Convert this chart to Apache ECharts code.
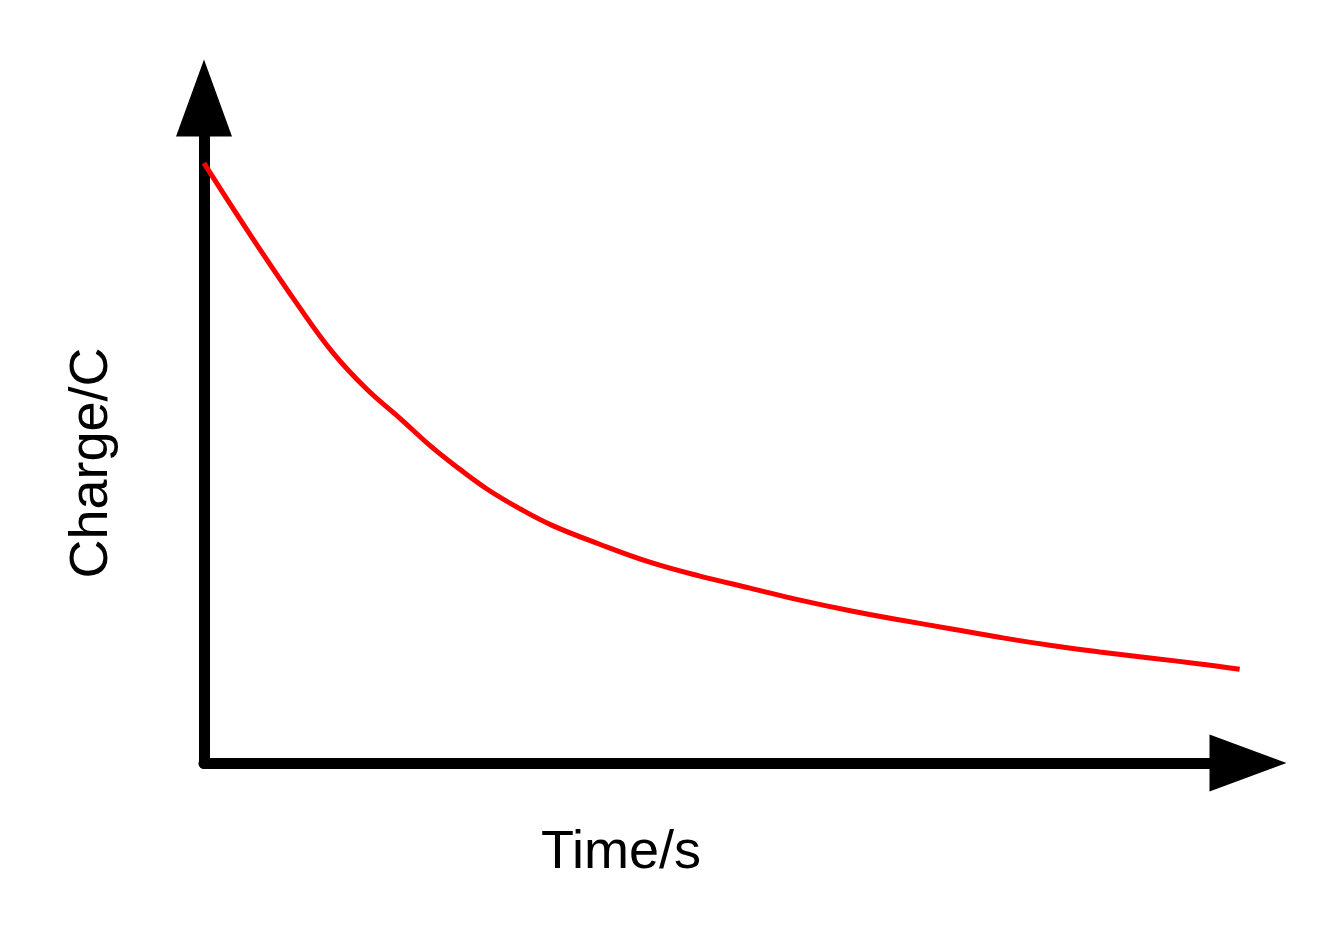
<!DOCTYPE html>
<html>
<head>
<meta charset="utf-8">
<script src="https://cdn.jsdelivr.net/npm/echarts@6/dist/echarts.min.js"></script>
<style>
html,body{margin:0;padding:0;background:#fff;}
#chart{width:1334px;height:938px;}
</style>
</head>
<body>
<div id="chart"></div>
<script>
// Time (s) and charge (C)
var time = [0, 0.44, 0.92, 1.24, 1.56, 1.88, 2.16, 2.39, 2.71, 3.03, 3.34, 3.79, 4.27, 4.75, 5.23, 5.71, 6.19, 6.67, 7.15, 7.62, 8.10, 8.58, 9.06, 9.54, 9.92];
var charge = [90.2, 79.5, 68.4, 61.6, 56.2, 51.8, 47.8, 44.9, 41.2, 38.2, 35.7, 32.9, 30.2, 28.1, 26.3, 24.5, 22.9, 21.5, 20.2, 18.9, 17.7, 16.7, 15.8, 14.9, 14.1];
var xTitle = 'Time/s';
var yTitle = 'Charge/C';

var points = time.map(function (t, i) { return [t, charge[i]]; });

var chart = echarts.init(document.getElementById('chart'), null, {renderer: 'canvas'});
chart.setOption({
  backgroundColor: '#ffffff',
  animation: false,
  grid: {left: 204, right: 86, top: 98, bottom: 175, containLabel: false},
  xAxis: {
    type: 'value', min: 0, max: 10,
    axisLine: {show: true, onZero: false, lineStyle: {color: '#000', width: 11},
      symbol: ['none', 'triangle'], symbolSize: [57, 77]},
    axisTick: {show: false}, axisLabel: {show: false}, splitLine: {show: false}
  },
  yAxis: {
    type: 'value', min: 0, max: 100,
    axisLine: {show: true, onZero: false, lineStyle: {color: '#000', width: 11},
      symbol: ['none', 'triangle'], symbolSize: [56, 77]},
    axisTick: {show: false}, axisLabel: {show: false}, splitLine: {show: false}
  },
  graphic: [
    {type: 'text', x: 621, y: 853,
      style: {text: xTitle, font: '54px "Liberation Sans", Arial, sans-serif', fill: '#000',
        textAlign: 'center', textVerticalAlign: 'middle'}},
    {type: 'text', x: 92, y: 463, rotation: Math.PI / 2,
      style: {text: yTitle, font: '54px "Liberation Sans", Arial, sans-serif', fill: '#000',
        textAlign: 'center', textVerticalAlign: 'middle'}}
  ],
  series: [{
    type: 'line',
    data: points,
    smooth: 0.4,
    showSymbol: false,
    lineStyle: {color: '#ff0000', width: 5},
    z: 1
  }]
});
</script>
</body>
</html>
